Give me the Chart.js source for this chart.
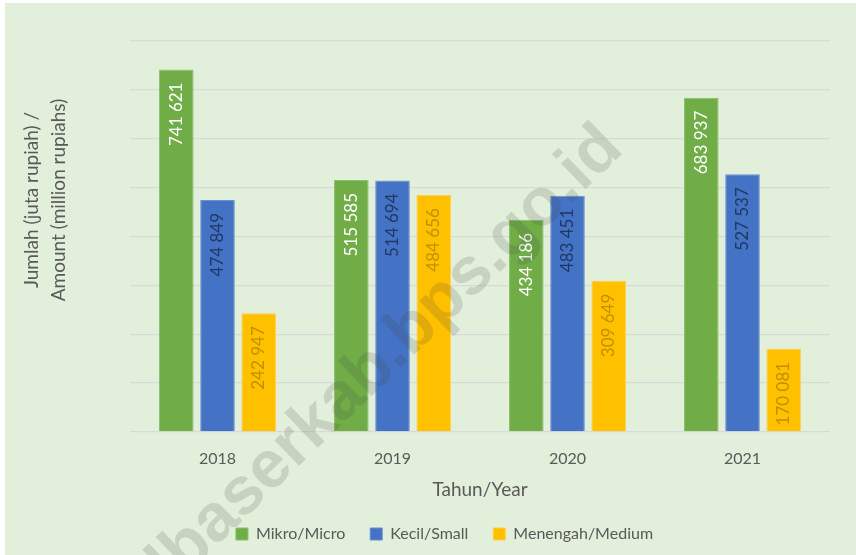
<!DOCTYPE html>
<html>
<head>
<meta charset="utf-8">
<script src="https://cdn.jsdelivr.net/npm/chart.js@4.4.1/dist/chart.umd.min.js"></script>
<style>
  html, body { margin: 0; padding: 0; background: #fff; }
  #wrap { position: absolute; left: 5px; top: 3px; width: 851px; height: 552px; background: #e2efda; }
</style>
</head>
<body>
<div id="wrap"><canvas id="chart"></canvas></div>
<script>
const years = ['2018', '2019', '2020', '2021'];
const mikro = [741621, 515585, 434186, 683937];
const kecil = [474849, 514694, 483451, 527537];
const menengah = [242947, 484656, 309649, 170081];
const seriesNames = ['Mikro/Micro', 'Kecil/Small', 'Menengah/Medium'];
const yTitle = ['Jumlah (juta rupiah) /', 'Amount (million rupiahs)'];
const xTitle = 'Tahun/Year';
const watermark = 'dbaserkab.bps.go.id';

const fills = ['#70ad47', '#4472c4', '#ffc000'];
const edges = ['#8cc06a', '#6a8fd2', '#ffd04d'];
const labelColors = ['#ffffff', '#203864', '#bf9000'];
const textGrey = '#595959';

Chart.defaults.font.family = 'Lato';
Chart.defaults.color = textGrey;

const fmt = n => String(n).replace(/\B(?=(\d{3})+(?!\d))/g, ' ');

// vertical value labels just inside the top of each bar
const valueLabels = {
  id: 'valueLabels',
  afterDatasetsDraw(chart) {
    const ctx = chart.ctx;
    chart.data.datasets.forEach((ds, i) => {
      chart.getDatasetMeta(i).data.forEach((bar, j) => {
        ctx.save();
        ctx.translate(bar.x, bar.y + 13);
        ctx.rotate(-Math.PI / 2);
        ctx.font = '17px Lato';
        ctx.fillStyle = labelColors[i];
        ctx.textAlign = 'right';
        ctx.textBaseline = 'middle';
        ctx.fillText(fmt(ds.data[j]), 0, 0);
        ctx.restore();
      });
    });
  }
};

// two-line axis title on the left, sitting a bit above the plot centre
const sideTitle = {
  id: 'sideTitle',
  afterDraw(chart) {
    const ctx = chart.ctx;
    ctx.save();
    ctx.font = '19px Lato';
    ctx.fillStyle = textGrey;
    ctx.textAlign = 'center';
    ctx.textBaseline = 'middle';
    yTitle.forEach((line, k) => {
      ctx.save();
      ctx.translate(27 + k * 27, 197);
      ctx.rotate(-Math.PI / 2);
      ctx.fillText(line, 0, 0);
      ctx.restore();
    });
    ctx.restore();
  }
};

const stamp = {
  id: 'stamp',
  afterDraw(chart) {
    const ctx = chart.ctx;
    ctx.save();
    ctx.translate(373, 361);
    ctx.rotate(-44 * Math.PI / 180);
    ctx.font = 'bold 67px "Liberation Sans"';
    ctx.fillStyle = 'rgba(60,60,60,0.16)';
    ctx.textAlign = 'center';
    ctx.textBaseline = 'middle';
    ctx.fillText(watermark, 0, 0);
    ctx.restore();
  }
};

// nudge the legend row to the right
const legendShift = {
  id: 'legendShift',
  afterLayout(chart) {
    chart.legend.left += 27;
    chart.legend.right += 27;
  }
};

new Chart(document.getElementById('chart'), {
  type: 'bar',
  data: {
    labels: years,
    datasets: [mikro, kecil, menengah].map((values, i) => ({
      label: seriesNames[i],
      data: values,
      backgroundColor: fills[i],
      borderColor: edges[i],
      borderWidth: 1,
      categoryPercentage: 0.706,
      barPercentage: 0.84
    }))
  },
  options: {
    responsive: true,
    maintainAspectRatio: false,
    animation: false,
    layout: { padding: { left: 0, right: 26, top: 38, bottom: 3 } },
    scales: {
      y: {
        min: 0,
        max: 800000,
        ticks: { display: false, stepSize: 100000 },
        grid: { color: '#d9d9d9', lineWidth: 1.3, drawTicks: false },
        border: { display: false },
        afterFit(scale) { scale.width = 125; }
      },
      x: {
        grid: { display: false, drawTicks: false },
        border: { display: false },
        ticks: { font: { size: 16 }, color: textGrey, padding: 17 },
        title: { display: true, text: xTitle, font: { size: 19 }, color: textGrey, padding: { top: 4, bottom: 0 } },
        afterFit(scale) { scale.height = 69; }
      }
    },
    plugins: {
      legend: {
        position: 'bottom',
        labels: { boxWidth: 12, boxHeight: 12, padding: 25, font: { size: 16 }, color: textGrey }
      },
      tooltip: { enabled: false }
    }
  },
  plugins: [valueLabels, sideTitle, stamp, legendShift]
});
</script>
</body>
</html>
